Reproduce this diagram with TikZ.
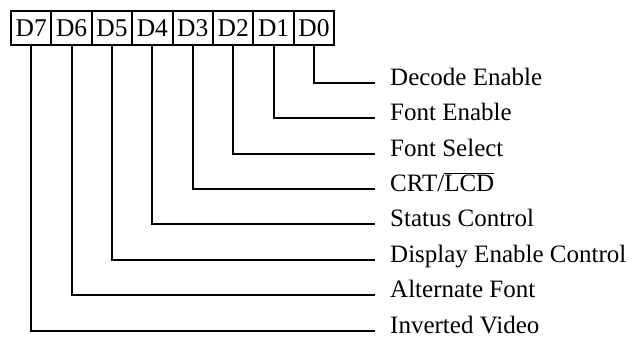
\documentclass[tikz,border=0pt]{standalone}
\usepackage{fontspec}
\setmainfont{Liberation Serif}
\begin{document}
\begin{tikzpicture}[x=1pt,y=-1pt,
  bitbox/.style={draw,line width=2pt,minimum width=40.4pt,minimum height=34pt,inner sep=0pt,
     font=\fontsize{25.5}{28}\selectfont},
  lbl/.style={anchor=mid west,inner sep=0pt,font=\fontsize{25}{28}\selectfont},
  conn/.style={line width=2pt}]
\useasboundingbox (0,0) rectangle (644,343);
\foreach \i/\b in {0/7,1/6,2/5,3/4,4/3,5/2,6/1,7/0}{
  \node[bitbox] (b\b) at (31.2+40.4*\i,28) {D\b};
}
\node[lbl] (l0) at (390,83) {Decode Enable};
\node[lbl] (l1) at (390,118) {Font Enable};
\node[lbl] (l2) at (390,154) {Font Select};
\node[lbl] (l3) at (390,189) {CRT/$\overline{\mbox{LCD}}$};
\node[lbl] (l4) at (390,224) {Status Control};
\node[lbl] (l5) at (390,260) {Display Enable Control};
\node[lbl] (l6) at (390,295) {Alternate Font};
\node[lbl] (l7) at (390,331) {Inverted Video};
\foreach \k in {0,...,7}{
  \draw[conn] (b\k.south) |- ([xshift=-15pt]l\k.mid west);
}
\end{tikzpicture}
\end{document}
